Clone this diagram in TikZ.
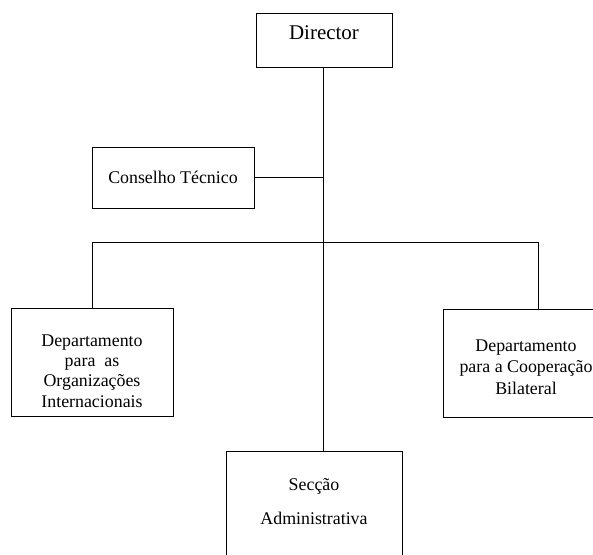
\documentclass[tikz,border=0pt]{standalone}
\usepackage{fontspec}
\setmainfont{Liberation Serif}
\usepackage{tikz}

\tikzset{
  caixa/.style={draw,line width=0.6pt,align=center,inner sep=2pt,
    font=\fontsize{12.7}{14.4}\selectfont},
  linha/.style={line width=0.6pt}
}

\begin{document}
\begin{tikzpicture}[x=0.025cm,y=-0.025cm]
			\useasboundingbox (0,0) rectangle (593,554);
			\node[caixa,minimum width=3.4cm,minimum height=1.35cm,font=\fontsize{14.9}{17}\selectfont] (dir) at (324,40) {Director\rule[-11pt]{0pt}{0pt}};
			\node[caixa,minimum width=4.05cm,minimum height=1.525cm] (cons) at (173,177.5) {Conselho T\'ecnico};
			\node[caixa,minimum width=4.05cm,minimum height=2.7cm] (depOI) at (92,362) {\rule{0pt}{21pt}Departamento\\para~~as\\Organiza\c{c}\~oes\\Internacionais};
			\node[caixa,minimum width=4.15cm,minimum height=2.7cm,font=\fontsize{12.7}{15.2}\selectfont] (depCB) at (526,363) {\rule{0pt}{14pt}Departamento\\para a Coopera\c{c}\~ao\\Bilateral};
			\node[caixa,minimum width=4.4cm,minimum height=3cm] (sec) at (314,511) {Sec\c{c}\~ao\\[10pt]Administrativa\rule[-14pt]{0pt}{0pt}};
			\coordinate (barra) at (323,242);
			\coordinate (barraD) at (538,242);
			\draw[linha] ([xshift=-0.025cm]dir.south) -- ([xshift=-0.025cm]dir.south |- sec.north);
			\draw[linha] (cons.east) -- (cons.east -| barra);
			\draw[linha] (depOI.north) |- (barraD) -- (barraD |- depCB.north);
		\end{tikzpicture}
\end{document}
